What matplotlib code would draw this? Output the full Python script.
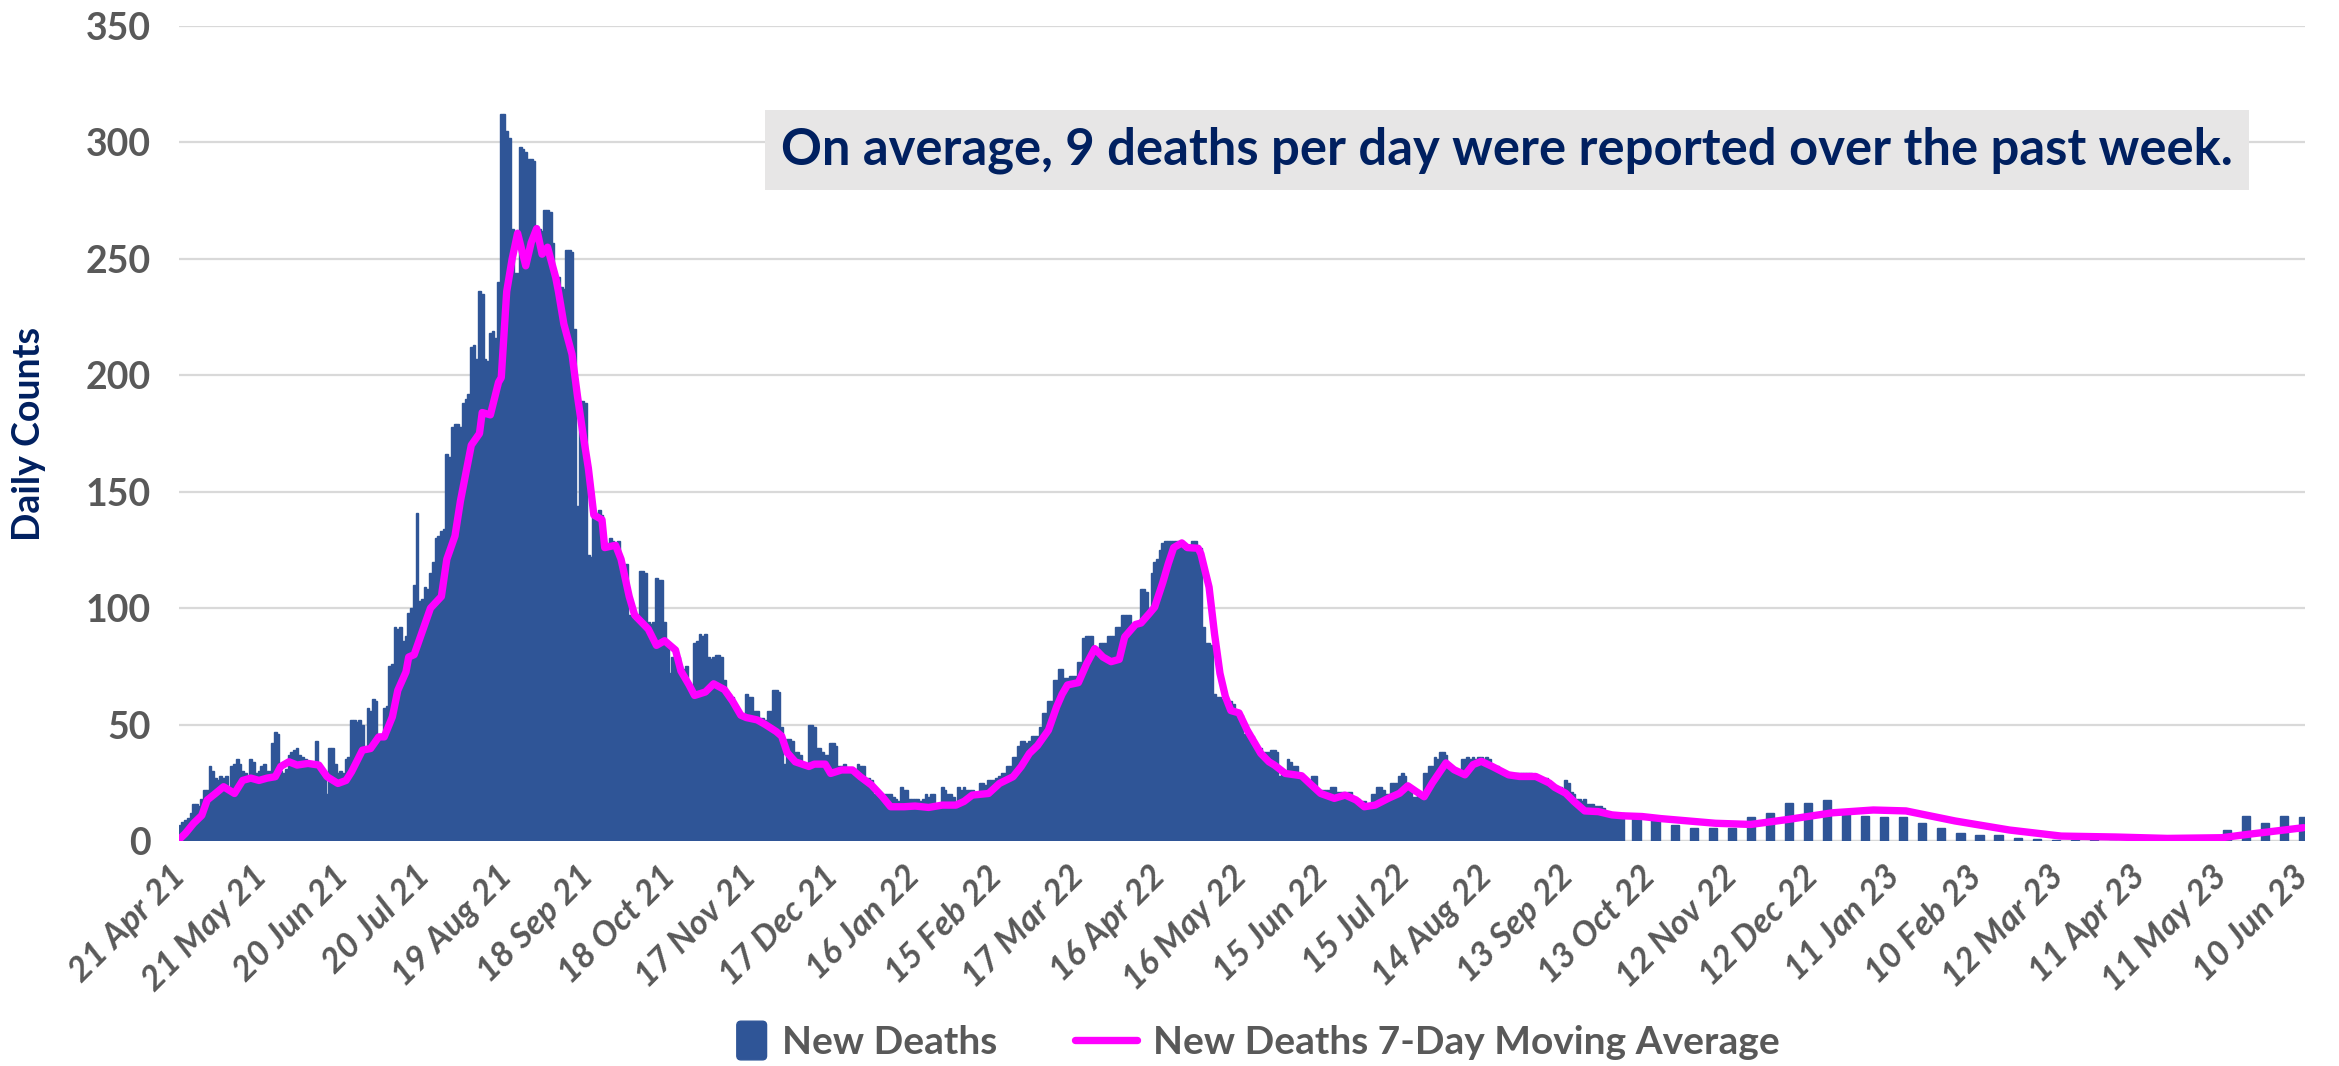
import datetime as dt

import matplotlib
matplotlib.use('Agg')  # no display
import matplotlib.pyplot as pyplot
import matplotlib.dates as mdates
import matplotlib.patches as mpatches
from matplotlib.legend_handler import HandlerPatch

pyplot.rcParams['font.family'] = ['Lato', 'DejaVu Sans']

START = dt.date(2021, 4, 21)

# daily new deaths, one value per day from 21 Apr 21
daily_deaths = [
    7, 8, 9, 10, 12, 16, 16, 15, 18, 22,
    22, 32, 30, 27, 26, 28, 27, 28, 23, 32,
    33, 35, 33, 30, 29, 26, 35, 34, 29, 30,
    32, 33, 30, 30, 42, 47, 46, 30, 29, 31,
    37, 38, 39, 40, 37, 36, 35, 34, 32, 32,
    43, 30, 29, 28, 20, 40, 40, 33, 29, 30,
    29, 35, 36, 52, 52, 51, 52, 50, 40, 57,
    56, 61, 60, 45, 46, 57, 58, 75, 76, 92,
    91, 92, 86, 88, 98, 100, 110, 141, 103, 104,
    109, 108, 115, 120, 130, 131, 133, 134, 166, 165,
    178, 179, 179, 178, 188, 190, 192, 212, 213, 207,
    236, 235, 207, 206, 218, 219, 216, 240, 312, 312,
    305, 302, 263, 244, 244, 298, 297, 296, 293, 293,
    292, 264, 263, 262, 271, 271, 270, 257, 242, 242,
    238, 237, 254, 254, 253, 220, 144, 189, 189, 188,
    123, 122, 142, 141, 142, 140, 129, 128, 130, 129,
    128, 129, 119, 118, 119, 97, 96, 95, 95, 116,
    116, 115, 94, 93, 94, 113, 112, 112, 94, 85,
    72, 79, 80, 79, 75, 74, 75, 66, 66, 85,
    86, 89, 88, 89, 79, 78, 79, 80, 80, 79,
    69, 63, 63, 62, 58, 57, 53, 52, 63, 62,
    62, 56, 56, 53, 53, 52, 56, 56, 65, 65,
    64, 49, 33, 44, 44, 43, 38, 38, 37, 32,
    33, 50, 50, 49, 40, 40, 38, 37, 37, 42,
    42, 41, 32, 32, 33, 31, 31, 31, 31, 33,
    32, 32, 27, 27, 26, 20, 20, 20, 19, 20,
    20, 20, 19, 18, 17, 23, 22, 22, 18, 18,
    18, 18, 17, 18, 20, 19, 20, 20, 15, 15,
    23, 22, 20, 20, 19, 15, 23, 22, 23, 22,
    22, 22, 20, 20, 25, 25, 24, 26, 26, 26,
    27, 28, 29, 29, 32, 32, 36, 36, 41, 43,
    43, 42, 43, 45, 45, 45, 49, 55, 55, 60,
    60, 69, 69, 74, 74, 70, 70, 71, 71, 71,
    77, 77, 87, 88, 88, 88, 83, 83, 85, 85,
    85, 88, 88, 88, 92, 92, 97, 97, 97, 97,
    90, 92, 92, 108, 108, 107, 100, 115, 120, 121,
    125, 128, 129, 129, 129, 129, 129, 128, 129, 125,
    125, 125, 129, 129, 126, 126, 92, 85, 85, 84,
    63, 62, 62, 61, 58, 57, 60, 59, 55, 55,
    54, 46, 46, 45, 45, 40, 40, 40, 38, 38,
    38, 39, 39, 38, 28, 30, 30, 35, 34, 32,
    32, 28, 27, 26, 26, 26, 28, 28, 22, 22,
    22, 22, 22, 23, 23, 21, 21, 21, 20, 21,
    21, 18, 17, 18, 17, 17, 16, 16, 20, 20,
    23, 23, 22, 20, 20, 25, 25, 25, 28, 29,
    28, 23, 23, 19, 19, 21, 20, 29, 29, 32,
    32, 36, 35, 38, 38, 37, 31, 30, 29, 29,
    29, 35, 35, 36, 35, 36, 35, 36, 36, 35,
    36, 35, 31, 31, 32, 31, 28, 28, 29, 28,
    28, 29, 29, 29, 29, 29, 29, 28, 27, 27,
    27, 26, 27, 24, 23, 23, 23, 23, 21, 26,
    25, 21, 20, 18, 18, 17, 18, 16, 16, 16,
    15, 15, 15, 14, 12, 12, 12, 12, 12, 11,
    12,
]

# from October 2022 deaths are reported once a week
WEEKLY_START = dt.date(2022, 10, 8)
weekly_deaths = [
    11.4, 9.3, 6.7, 5.7, 5.5, 5.7, 10.4, 12.0, 16.4, 16.4,
    17.6, 11.4, 10.7, 10.4, 10.4, 7.6, 5.7, 3.6, 2.6, 2.4,
    1.4, 0.7, 0.5, 0.5, 0.3, 0.2, 0.2, 0.2, 1.5, 1.5,
    1.5, 4.6, 10.7, 7.6, 10.7, 10.4,
]

# 7-day moving average (days after 21 Apr 21, value)
ma_day = [
    0, 2, 5, 8, 10, 13, 16, 20, 23, 26, 29, 32, 35, 37, 40, 43, 47, 51, 54, 58,
    61, 63, 67, 70, 73, 75, 78, 80, 83, 84, 86, 89, 92, 96, 98, 101, 103, 105,
    107, 110, 111, 114, 117, 118, 120, 122, 124, 127, 129, 131, 133, 135, 138,
    139, 141, 144, 146, 148, 150, 152, 155, 156, 160, 162, 165, 167, 172, 175,
    178, 182, 184, 187, 189, 193, 196, 200, 203, 206, 208, 212, 215, 219, 221,
    223, 226, 231, 233, 237, 239, 243, 247, 250, 254, 258, 261, 266, 270, 275,
    280, 285, 288, 291, 297, 301, 306, 309, 312, 315, 319, 322, 324, 326, 330,
    333, 336, 339, 342, 345, 347, 351, 353, 356, 358, 361, 363, 365, 368, 370,
    374, 375, 378, 380, 382, 384, 386, 389, 392, 397, 400, 402, 406, 412, 415,
    419, 424, 428, 432, 435, 439, 444, 448, 451, 454, 457, 460, 465, 468, 472,
    475, 478, 482, 488, 492, 498, 503, 505, 509, 512, 516, 521, 526, 530, 537,
    544, 564, 577, 591, 607, 622, 634, 652, 672, 691, 711, 730, 750, 760, 780,
]
ma_value = [
    1, 3.3, 7.6, 11, 17.6, 20.4, 23.3, 20.4, 26, 27, 26, 27, 27.6, 32, 34, 32.6,
    33.3, 32.6, 27.6, 24.7, 26, 29.7, 39, 39.7, 44.7, 44.7, 53.3, 64.7, 72.6, 79,
    80, 90, 100, 105, 121, 131, 146, 158, 170, 175, 184, 183, 197, 199, 236, 250,
    261, 247, 257, 263, 252, 255, 242, 236, 222, 209, 191, 175, 160, 140, 138,
    126, 127, 121, 105, 97, 91, 84, 86, 82, 73, 67, 62.5, 64, 67.5, 65, 60, 54,
    53, 52, 50, 47, 45, 38, 34, 32, 33, 33, 29, 30.5, 30.5, 27.5, 24, 19, 14.7,
    14.7, 15, 14.4, 15.4, 15.4, 17, 19.7, 20.4, 24.7, 27.6, 32, 37.6, 41, 47.6,
    57.6, 63, 67, 68, 76, 82.6, 79, 77, 78, 87.6, 93, 93.6, 97.6, 100.4, 111,
    119, 126, 128, 126, 125.7, 123.3, 109, 89, 72, 62, 56, 55, 47.6, 37.6, 34,
    32.6, 29, 28, 24.7, 20.4, 18.3, 19.7, 17.6, 14.7, 15.4, 18.4, 20.5, 23.7,
    21.3, 19, 24.9, 33.5, 30.6, 28.4, 32.8, 34.2, 32, 28.4, 27.7, 27.7, 24.9, 23,
    20.5, 17, 12.9, 12.6, 11.2, 10.8, 10.5, 9.6, 7.6, 7.1, 9.3, 12.1, 13.3,
    12.9, 8.6, 4.7, 2.1, 1.7, 1.1, 1.4, 2.9, 5.7,
]

tick_labels = [
    '21 Apr 21', '21 May 21', '20 Jun 21', '20 Jul 21', '19 Aug 21', '18 Sep 21',
    '18 Oct 21', '17 Nov 21', '17 Dec 21', '16 Jan 22', '15 Feb 22', '17 Mar 22',
    '16 Apr 22', '16 May 22', '15 Jun 22', '15 Jul 22', '14 Aug 22', '13 Sep 22',
    '13 Oct 22', '12 Nov 22', '12 Dec 22', '11 Jan 23', '10 Feb 23', '12 Mar 23',
    '11 Apr 23', '11 May 23', '10 Jun 23',
]
y_ticks = [0, 50, 100, 150, 200, 250, 300, 350]

NOTE = 'On average, 9 deaths per day were reported over the past week.'

BAR_BLUE = '#2F5597'
MAGENTA = '#FF00FF'
GREY_TXT = '#595959'
NAVY = '#002060'


def narrow_box(legend, orig_handle, xdescent, ydescent, width, height, fontsize):
    # squarish swatch at the right end of the handle slot, like the Excel legend
    w = height * 1.0
    return mpatches.FancyBboxPatch((-xdescent + width - w, -ydescent - 0.15 * height),
                                   w, 1.3 * height,
                                   boxstyle='round,pad=0,rounding_size=3')


def main():
    daily_dates = [START + dt.timedelta(days=i) for i in range(len(daily_deaths))]
    weekly_dates = [WEEKLY_START + dt.timedelta(days=7 * i) for i in range(len(weekly_deaths))]
    ma_dates = [START + dt.timedelta(days=d) for d in ma_day]
    tick_dates = [dt.datetime.strptime(t, '%d %b %y').date() for t in tick_labels]

    fig = pyplot.figure(figsize=(23.39, 10.66), dpi=100)
    ax = fig.add_axes([0.0765, 0.2111, 0.909, 0.7645])

    ax.bar(mdates.date2num(daily_dates), daily_deaths, width=1.0, color=BAR_BLUE,
           edgecolor=BAR_BLUE, linewidth=1.0, zorder=2)
    ax.bar(mdates.date2num(weekly_dates), weekly_deaths, width=3.0, color=BAR_BLUE,
           edgecolor=BAR_BLUE, linewidth=1.0, zorder=2)
    line, = ax.plot(mdates.date2num(ma_dates), ma_value, color=MAGENTA, linewidth=5.3,
                    solid_joinstyle='round', solid_capstyle='round', zorder=3)

    x0 = mdates.date2num(START) - 0.4
    x1 = mdates.date2num(tick_dates[-1]) + 0.6
    ax.set_xlim(x0, x1)
    ax.set_ylim(0, 350)

    ax.set_yticks(y_ticks)
    ax.set_yticklabels([str(v) for v in y_ticks], fontsize=27, fontweight='bold',
                       color=GREY_TXT)
    ax.set_xticks(mdates.date2num(tick_dates))
    ax.set_xticklabels(tick_labels, rotation=45, ha='right', va='center',
                       rotation_mode='anchor', fontsize=25, fontweight='bold',
                       fontstyle='italic', color=GREY_TXT)
    ax.tick_params(axis='y', length=0, pad=20)
    ax.tick_params(axis='x', length=0, pad=22)

    ax.grid(axis='y', color='#D9D9D9', linewidth=1.6, zorder=0)
    ax.set_axisbelow(True)
    for s in ax.spines.values():
        s.set_visible(False)
    ax.axhline(0, color='#D9D9D9', linewidth=1.6, zorder=1)

    ax.set_ylabel('Daily Counts', fontsize=27, fontweight='bold', color=NAVY)
    ax.yaxis.set_label_coords(-0.0625, 0.5)

    ax.text(0.6246, 0.848, NOTE, transform=ax.transAxes, ha='center', va='center',
            fontsize=36.5, fontweight='bold', color=NAVY, zorder=5,
            bbox=dict(boxstyle='square,pad=0.32', facecolor='#E7E6E6', edgecolor='none'))

    bar_proxy = mpatches.Patch(color=BAR_BLUE)
    leg = fig.legend([bar_proxy, line], ['New Deaths', 'New Deaths 7-Day Moving Average'],
                     handler_map={bar_proxy: HandlerPatch(patch_func=narrow_box)},
                     loc='center', bbox_to_anchor=(0.531, 0.022), ncol=2, frameon=False,
                     prop={'size': 28, 'weight': 'bold'}, handlelength=1.6,
                     handleheight=0.8, columnspacing=2.0, handletextpad=0.4)
    for t in leg.get_texts():
        t.set_color(GREY_TXT)

    pyplot.savefig('out.png', dpi=100)


if __name__ == '__main__':
    main()
